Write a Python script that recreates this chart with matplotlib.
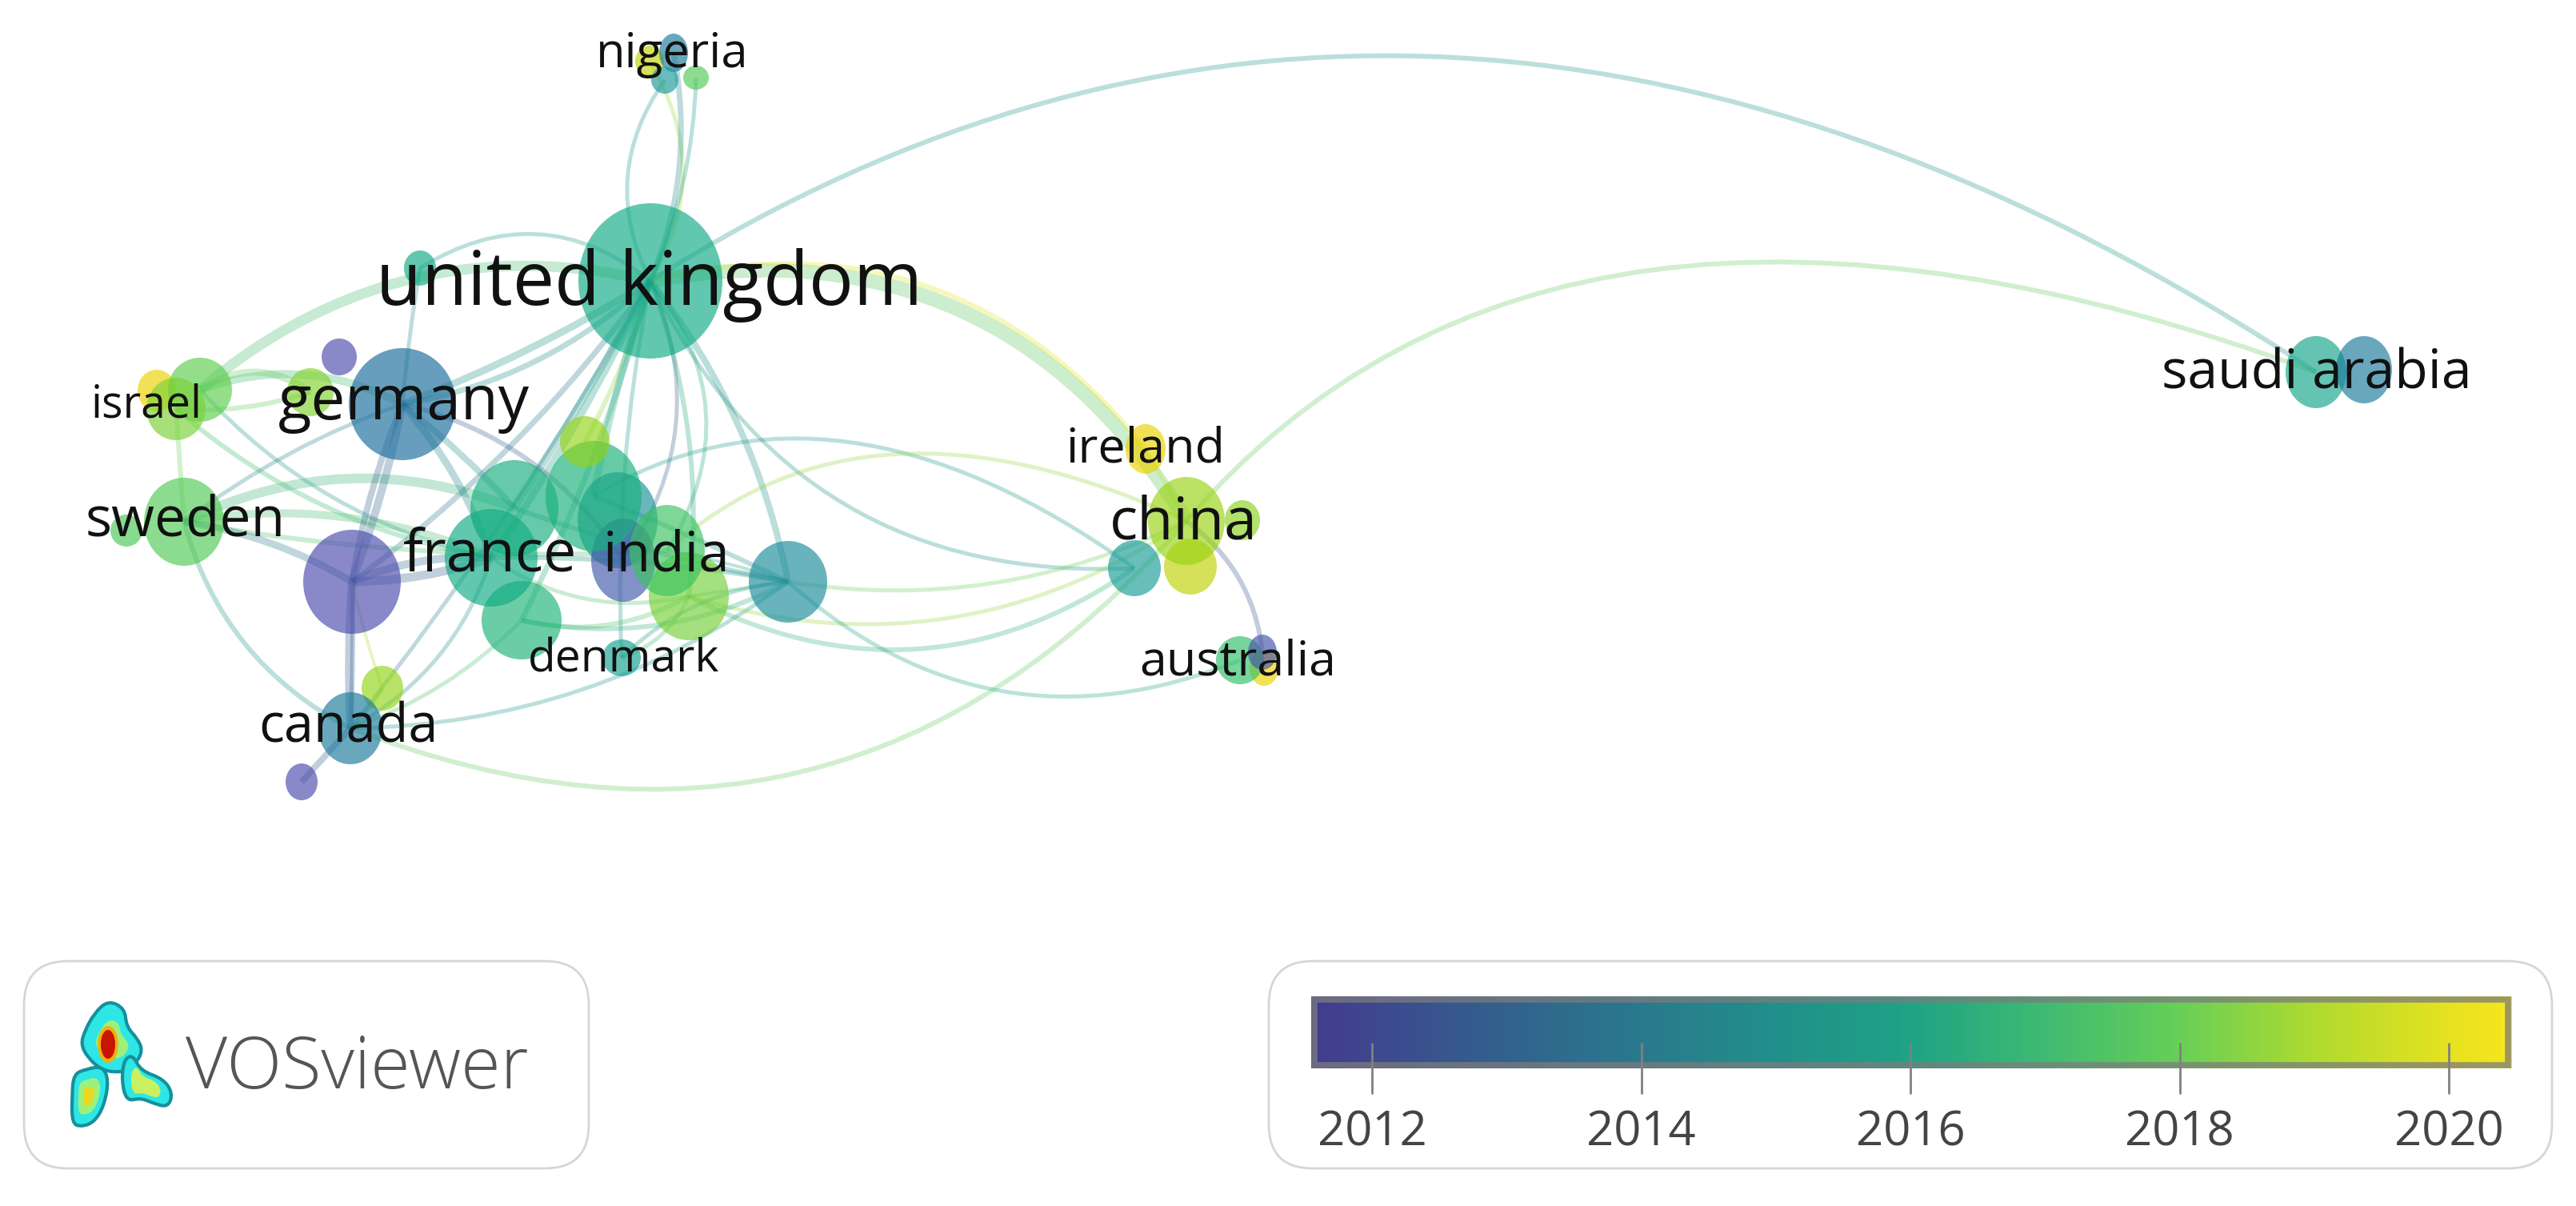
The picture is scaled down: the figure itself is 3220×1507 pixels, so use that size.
import numpy as np
import matplotlib
matplotlib.use("Agg")
import matplotlib.pyplot as plt
from matplotlib.colors import LinearSegmentedColormap, Normalize
from matplotlib.patches import Ellipse, FancyBboxPatch, PathPatch, Rectangle
from matplotlib.path import Path

plt.rcParams['font.family'] = ['Open Sans', 'DejaVu Sans']

# map nodes, in picture pixels, with the year that colours them
node_ids = ["tl_a", "pur_a", "yel_a", "grn_a", "isr", "grn_b", "ger", "grn_d", "swe", "pur_b",
            "tl_c", "pur_c", "grn_g", "grn_f", "grn_h", "fra", "grn_e", "ind", "ygr_a", "tl_d",
            "den", "ygr_b", "can", "pur_d", "uk",
            "yel_b", "nig", "tl_b", "grn_c",
            "ire", "yel_c", "tl_e", "ygr_c", "chi", "yel_d", "aus", "pur_e",
            "sau_a", "sau_b"]
node_x = [525, 424, 196, 250, 220, 388, 503, 158, 230, 440,
          772, 779, 861, 834, 652, 614, 643, 742, 731, 985,
          777, 478, 438, 377, 813,
          812, 842, 831, 870,
          1432, 1488, 1418, 1553, 1483, 1580, 1550, 1578,
          2895, 2955]
node_y = [335, 446, 488, 487, 511, 490, 505, 663, 652, 727,
          650, 700, 745, 688, 775, 697, 635, 620, 552, 727,
          822, 860, 910, 977, 351,
          77, 66, 100, 97,
          561, 708, 710, 650, 651, 835, 825, 815,
          465, 462]
node_rx = [20, 22, 24, 40, 37, 29, 67, 20, 50, 61,
           50, 40, 50, 47, 50, 58, 55, 60, 31, 49,
           24, 26, 40, 20, 90,
           18, 18, 17, 16,
           25, 33, 33, 22, 48, 18, 30, 18,
           38, 35]
node_ry = [22, 23, 26, 40, 39, 30, 70, 20, 55, 65,
           60, 52, 55, 57, 49, 61, 60, 69, 32, 51,
           23, 28, 45, 23, 97,
           20, 24, 17, 15,
           31, 35, 35, 25, 55, 22, 30, 22,
           45, 42]
node_year = [2016.0, 2012.0, 2020.0, 2017.8, 2018.3, 2018.4, 2014.0, 2017.5, 2017.6, 2012.0,
             2014.8, 2012.8, 2018.2, 2017.2, 2016.4, 2016.0, 2016.2, 2016.3, 2018.7, 2014.7,
             2015.5, 2018.7, 2014.3, 2012.0, 2016.0,
             2019.4, 2014.3, 2015.0, 2017.6,
             2020.0, 2019.4, 2015.2, 2018.6, 2018.8, 2020.0, 2017.0, 2012.5,
             2015.7, 2014.3]

# links between nodes: bend > 0 bulges to the left of the from->to direction
edge_from = ["uk", "uk", "uk", "uk", "uk", "uk", "uk", "uk", "uk", "uk", "uk", "uk",
             "uk", "uk", "uk", "uk", "uk", "uk", "uk", "uk", "uk", "uk", "uk", "ire",
             "grn_a", "grn_a", "grn_a", "isr", "isr", "isr", "swe", "swe", "swe", "swe", "swe",
             "ger", "ger", "ger", "ger", "ger", "ger", "ger",
             "pur_b", "pur_b", "pur_b", "pur_b", "ygr_b",
             "can", "can", "can", "can", "can", "can",
             "fra", "grn_e", "ind", "grn_g", "tl_d", "grn_g", "tl_d", "grn_h", "fra", "den", "den",
             "chi", "grn_h", "grn_g", "grn_f"]
edge_to = ["tl_b", "yel_b", "nig", "grn_c", "ger", "ger", "grn_a", "tl_a", "ygr_a", "fra", "grn_e", "ind",
           "pur_b", "pur_c", "grn_f", "grn_g", "tl_d", "grn_h", "den", "chi", "ire", "tl_e", "can", "chi",
           "ger", "grn_b", "fra", "swe", "fra", "grn_b", "fra", "grn_e", "can", "grn_f", "pur_b",
           "pur_b", "pur_b", "fra", "grn_e", "tl_a", "pur_c", "swe",
           "can", "can", "fra", "fra", "pur_b",
           "pur_d", "ygr_b", "grn_h", "fra", "chi", "tl_d",
           "tl_d", "tl_d", "tl_d", "tl_e", "chi", "chi", "aus", "grn_g", "grn_g", "grn_g", "tl_d",
           "pur_e", "tl_d", "tl_d", "tl_d"]
edge_bend = [0.30, -0.30, -0.15, -0.10, 0.05, 0.15, -0.25, -0.35, 0.06, 0.04, 0.02, -0.04,
             0.08, 0.28, 0.35, 0.12, 0.12, 0.05, -0.06, 0.34, 0.32, -0.33, 0.04, 0.0,
             0.22, 0.34, -0.16, 0.0, -0.14, -0.10, 0.15, 0.22, -0.22, -0.06, 0.10,
             0.04, -0.06, 0.10, 0.04, 0.02, 0.20, -0.08,
             0.02, -0.03, -0.08, 0.12, 0.03,
             0.0, -0.08, -0.12, -0.20, -0.35, -0.16,
             0.05, -0.04, 0.02, -0.30, -0.16, -0.24, -0.31, -0.20, -0.22, -0.22, 0.18,
             0.22, -0.18, 0.0, 0.04]
edge_width = [5, 5, 7, 5, 9, 7, 13, 5, 6, 9, 9, 9,
              7, 5, 5, 6, 8, 7, 5, 18, 6, 5, 5, 5,
              10, 9, 5, 6, 6, 6, 10, 12, 6, 6, 9,
              10, 8, 9, 8, 5, 6, 5,
              6, 10, 11, 10, 4,
              8, 5, 5, 5, 6, 5,
              6, 6, 6, 6, 5, 5, 5, 6, 5, 5, 5,
              6, 6, 4, 4]
edge_year = [2015.6, 2018.8, 2014.8, 2015.6, 2015.2, 2014.8, 2017.2, 2015.6, 2018.6, 2015.8, 2015.6, 2016.0,
             2014.0, 2013.0, 2016.2, 2016.2, 2015.2, 2016.2, 2015.6, 2017.6, 2020.0, 2015.2, 2014.4, 2019.5,
             2017.0, 2017.8, 2015.6, 2018.0, 2017.0, 2017.8, 2017.2, 2016.8, 2015.6, 2017.4, 2014.0,
             2013.0, 2012.8, 2014.4, 2015.0, 2015.0, 2012.8, 2014.5,
             2013.0, 2012.8, 2013.0, 2013.4, 2019.0,
             2012.8, 2018.0, 2017.4, 2015.0, 2017.8, 2015.4,
             2015.2, 2015.2, 2015.4, 2016.6, 2018.0, 2018.6, 2016.0, 2017.4, 2017.4, 2017.0, 2015.6,
             2012.6, 2016.5, 2017.0, 2016.0]

# longer links that lean towards their start
arc_from = ["uk", "chi", "ind", "grn_f"]
arc_to = ["sau_a", "sau_a", "tl_e", "chi"]
arc_bend = [0.32, 0.33, 0.32, 0.32]
arc_lean = [-0.05, -0.13, -0.10, -0.10]
arc_width = [6, 6, 5, 5]
arc_year = [2015.4, 2017.8, 2015.4, 2018.6]

label_text = ["nigeria", "united kingdom", "germany", "israel", "sweden", "france", "india", "denmark",
              "canada", "ireland", "china", "australia", "saudi arabia"]
label_x = [840, 811, 505, 183, 232, 613, 833, 780, 435, 1432, 1479, 1547, 2896]
label_y = [84, 381, 524, 522, 670, 714, 714, 840, 928, 578, 674, 844, 485]
label_size = [43, 67, 55, 40, 50, 53, 50, 41, 48, 44, 53, 44, 49]

cbar_ticks = [2012, 2014, 2016, 2018, 2020]
cbar_years = [2011.55, 2012.9, 2014.0, 2015.0, 2016.0, 2017.0, 2018.0, 2019.0, 2020.0, 2020.46]
cbar_colors = ["#443c8e", "#33608e", "#2a7a8d", "#21908b", "#1fa386", "#3fbb72", "#68cf58",
               "#aedb30", "#e6e220", "#f6e61c"]
# nodes are drawn see-through and read more saturated than the bar
node_colors = ["#5244ae", "#3f5aa8", "#1a6c9c", "#1c9a9a", "#10aa84", "#30c068", "#68d048",
               "#a4d408", "#ecd000", "#f0d000"]

# logo outline layers, picture pixels
logo_top = [(135, 1250), (156, 1260), (158, 1283), (172, 1298), (178, 1312), (172, 1326), (160, 1338),
            (142, 1340), (126, 1336), (110, 1322), (101, 1305), (106, 1288), (118, 1266)]
logo_left = [(128, 1332), (136, 1350), (130, 1382), (118, 1402), (102, 1408), (90, 1404), (90, 1370),
             (92, 1342), (108, 1336)]
logo_right = [(166, 1318), (176, 1338), (204, 1348), (216, 1366), (210, 1384), (190, 1378), (176, 1372),
              (158, 1376), (152, 1350), (155, 1324)]

cmap = LinearSegmentedColormap.from_list(
    "vos", [((y - cbar_years[0]) / (cbar_years[-1] - cbar_years[0]), c) for y, c in zip(cbar_years, cbar_colors)])
node_cmap = LinearSegmentedColormap.from_list(
    "vos_nodes", [((y - cbar_years[0]) / (cbar_years[-1] - cbar_years[0]), c) for y, c in zip(cbar_years, node_colors)])
norm = Normalize(cbar_years[0], cbar_years[-1])


def smooth_path(points):
    # closed quadratic spline through the segment midpoints
    pts = np.array(points, dtype=float)
    mids = (pts + np.roll(pts, -1, axis=0)) / 2
    verts = [mids[-1]]
    codes = [Path.MOVETO]
    for p, m in zip(pts, mids):
        verts += [p, m]
        codes += [Path.CURVE3, Path.CURVE3]
    return Path(verts, codes)


def shrink(points, k):
    pts = np.array(points, dtype=float)
    return pts.mean(axis=0) + (pts - pts.mean(axis=0)) * k


def draw_link(ax, a, b, bend, lean, w, yr):
    xa, ya = pos[a]
    xb, yb = pos[b]
    ctrl = ((xa + xb) / 2 + bend * (yb - ya) + lean * (xb - xa),
            (ya + yb) / 2 - bend * (xb - xa) + lean * (yb - ya))
    path = Path([(xa, ya), ctrl, (xb, yb)], [Path.MOVETO, Path.CURVE3, Path.CURVE3])
    ax.add_patch(PathPatch(path, fc="none", ec=cmap(norm(yr)), lw=w * 0.72, alpha=0.3, capstyle="butt", zorder=1))


fig = plt.figure(figsize=(32.2, 15.07), dpi=100)
ax = fig.add_axes([0, 0, 1, 1])
pos = {n: (x, y) for n, x, y in zip(node_ids, node_x, node_y)}

for a, b, bend, w, yr in zip(edge_from, edge_to, edge_bend, edge_width, edge_year):
    draw_link(ax, a, b, bend, 0, w, yr)
for a, b, bend, lean, w, yr in zip(arc_from, arc_to, arc_bend, arc_lean, arc_width, arc_year):
    draw_link(ax, a, b, bend, lean, w, yr)

for x, y, rx, ry, yr in zip(node_x, node_y, node_rx, node_ry, node_year):
    ax.add_patch(Ellipse((x, y), 2 * rx, 2 * ry, fc=node_cmap(norm(yr)), ec="none", alpha=0.66, zorder=2))

for t, x, y, s in zip(label_text, label_x, label_y, label_size):
    ax.text(x, y, t, fontsize=s, color="#111111", ha="center", va="baseline", zorder=3)

# logo panel
ax.add_patch(FancyBboxPatch((30, 1201), 706, 259, boxstyle="round,pad=0,rounding_size=55",
                            fc="white", ec="#d6d6d6", lw=2))
for outline in (logo_top, logo_left, logo_right):
    ax.add_patch(PathPatch(smooth_path(outline), fc="#2fe6e6", ec="#14909c", lw=3, zorder=4))
ax.add_patch(PathPatch(smooth_path(shrink(logo_top, 0.55)), fc="#9cf07c", ec="none", zorder=5))
ax.add_patch(PathPatch(smooth_path(shrink(logo_left, 0.62)), fc="#9cf07c", ec="none", zorder=5))
ax.add_patch(PathPatch(smooth_path(shrink(logo_right, 0.6)), fc="#c8f060", ec="none", zorder=5))
ax.add_patch(PathPatch(smooth_path(shrink(logo_left, 0.32)), fc="#e8d820", ec="none", zorder=6))
ax.add_patch(Ellipse((135, 1305), 26, 46, fc="#f0b010", ec="none", zorder=6))
ax.add_patch(Ellipse((135, 1305), 18, 36, fc="#c81400", ec="none", zorder=7))
ax.text(232, 1360, "VOSviewer", fontsize=65, color="#555555", fontweight="light", ha="left", va="baseline")

# colour bar panel
ax.add_patch(FancyBboxPatch((1586, 1201), 1604, 259, boxstyle="round,pad=0,rounding_size=55",
                            fc="white", ec="#d6d6d6", lw=2))
grad = np.linspace(cbar_years[0], cbar_years[-1], 600).reshape(1, -1)
ax.imshow(grad, cmap=cmap, norm=norm, extent=(1639, 3139, 1335, 1245), aspect="auto", zorder=2)
ax.add_patch(Rectangle((1643, 1249), 1492, 82, fc="none", ec="#7c7c7c", lw=5.5, alpha=0.75, zorder=3))
to_px = lambda yr: 1715 + (yr - 2012) * 168.3
for yr in cbar_ticks:
    ax.plot([to_px(yr)] * 2, [1303, 1367], color="#808080", lw=2, solid_capstyle="butt", zorder=4)
    ax.text(to_px(yr), 1432, str(yr), fontsize=43, color="#444444", ha="center", va="baseline")

ax.set_xlim(0, 3220)
ax.set_ylim(1507, 0)
ax.axis("off")
fig.savefig("out.png", dpi=100, facecolor="white")
